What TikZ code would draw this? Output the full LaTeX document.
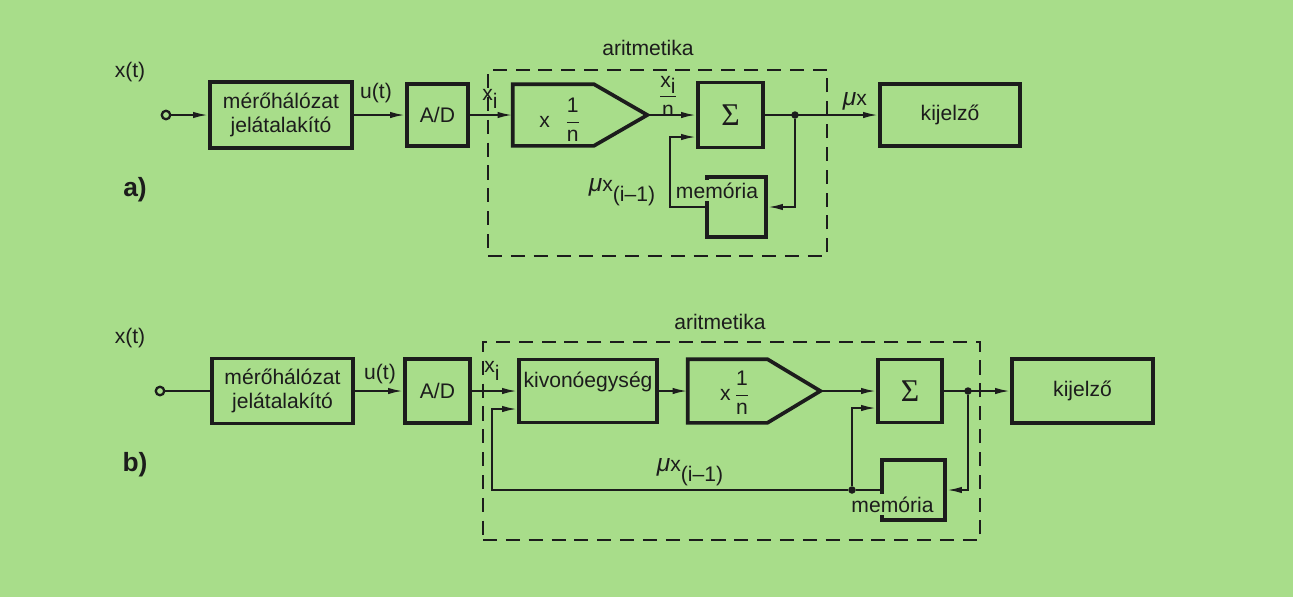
\documentclass[tikz,border=0pt]{standalone}
\usepackage{fontspec}
\setmainfont{Liberation Sans}
\newfontfamily\sigfont{Liberation Serif}
\usetikzlibrary{arrows.meta}
\definecolor{bgc}{RGB}{168,221,138}
\definecolor{ink}{RGB}{28,28,28}
\tikzset{
  blk/.style={draw, line width=2.1pt, align=center, inner sep=2pt},
  amp/.style={inner sep=0pt},
  ampline/.style={line width=2.1pt, line join=miter},
  arit/.style={draw, line width=1.1pt, dash pattern=on 8pt off 5pt},
  lbl/.style={inner sep=1pt},
  tag/.style={font=\bfseries\fontsize{15}{17}\selectfont},
  port/.style={circle, draw, line width=1.3pt, fill=bgc, inner sep=0pt, minimum size=0.17cm},
  junc/.style={circle, fill, inner sep=0pt, minimum size=0.15cm},
  memtext/.style={fill=bgc, inner sep=1.5pt, anchor=base},
  wire/.style={line width=1.1pt},
  flow/.style={-{Latex[length=8.5pt,width=3.6pt]}, line width=1.1pt},
}
\newcommand{\sigmark}{{\sigfont\fontsize{18}{20}\selectfont Σ}}
\newcommand{\mumark}{{\fontsize{14}{16}\selectfont\itshape μ}}

\begin{document}
\begin{tikzpicture}[color=ink, font=\fontsize{12}{14}\selectfont]
  \fill[bgc] (0,0) rectangle (25.86,-11.94);
  \useasboundingbox (0,0) rectangle (25.86,-11.94);

  % a)
  \node[tag] (taga) at (2.70,-3.80) {a)};
  \node[port] (ina) at (3.32,-2.30) {};
  \node[lbl] (xta) at (2.60,-1.44) {x(t)};
  \node[blk, minimum width=2.84cm, minimum height=1.32cm] (meroa) at (5.62,-2.30) {mérőhálózat\\jelátalakító};
  \node[lbl] (uta) at (7.52,-1.86) {u(t)};
  \node[blk, minimum width=1.22cm, minimum height=1.24cm] (ada) at (8.75,-2.30) {A/D};
  \node[arit, minimum width=6.78cm, minimum height=3.72cm] (arita) at (13.15,-3.26) {};
  \node[lbl] (aritlbla) at (12.96,-0.96) {aritmetika};
  \node[lbl] (xia) at (9.80,-1.98) {x\raisebox{-0.7ex}{i}};
  \node[amp, minimum width=2.68cm, minimum height=1.22cm] (ampa) at (11.60,-2.30) {};
  \draw[ampline] (ampa.north west) -- ([xshift=-1.07cm]ampa.north east) -- (ampa.east)
    -- ([xshift=-1.07cm]ampa.south east) -- (ampa.south west) -- cycle;
  \node[lbl] (amptexta) at (11.20,-2.40) {x\hspace{0.3cm}$\displaystyle\frac{\mbox{1}}{\mbox{n}}$};
  \node[lbl] (xna) at (13.36,-1.92) {$\displaystyle\frac{\mbox{x\raisebox{-0.6ex}{i}}}{\mbox{n}}$};
  \node[blk, minimum width=1.30cm, minimum height=1.30cm] (sigmaa) at (14.61,-2.30) {\sigmark};
  \node[junc] (dota) at (15.90,-2.30) {};
  \node[lbl] (mua) at (17.10,-2.02) {\mumark x};
  \node[blk, minimum width=2.80cm, minimum height=1.24cm] (kijelzoa) at (19.00,-2.30) {kijelző};
  \node[blk, minimum width=1.18cm, minimum height=1.20cm] (mema) at (14.73,-4.14) {};
  \node[memtext] (memlbla) at (14.34,-3.97) {memória};
  \node[lbl] (muia) at (12.44,-3.84) {\mumark x\raisebox{-0.9ex}{(i\textendash1)}};
  \coordinate (fba) at (13.40,-2.74);

  \draw[flow] (ina) -- (meroa);
  \draw[flow] (meroa) -- (ada);
  \draw[flow] (ada) -- (ampa);
  \draw[flow] (ampa) -- (sigmaa);
  \draw[flow] (sigmaa) -- (kijelzoa);
  \draw[flow] (dota) |- (mema.east);
  \draw[flow] (mema.west) -| (fba) -- (fba -| sigmaa.west);

  % b)
  \node[tag] (tagb) at (2.70,-9.30) {b)};
  \node[port] (inb) at (3.20,-7.82) {};
  \node[lbl] (xtb) at (2.60,-6.76) {x(t)};
  \node[blk, minimum width=2.82cm, minimum height=1.30cm] (merob) at (5.65,-7.82) {mérőhálózat\\jelátalakító};
  \node[lbl] (utb) at (7.60,-7.48) {u(t)};
  \node[blk, minimum width=1.30cm, minimum height=1.28cm] (adb) at (8.75,-7.82) {A/D};
  \node[arit, minimum width=9.94cm, minimum height=3.96cm] (aritb) at (14.63,-8.82) {};
  \node[lbl] (aritlblb) at (14.40,-6.44) {aritmetika};
  \node[lbl] (xib) at (9.84,-7.42) {x\raisebox{-0.7ex}{i}};
  \node[blk, minimum width=2.76cm, minimum height=1.26cm, text height=1.6ex, text depth=2.3ex] (kivonob) at (11.76,-7.82) {kivonóegység};
  \node[amp, minimum width=2.64cm, minimum height=1.26cm] (ampb) at (15.08,-7.82) {};
  \draw[ampline] (ampb.north west) -- ([xshift=-1.06cm]ampb.north east) -- (ampb.east)
    -- ([xshift=-1.06cm]ampb.south east) -- (ampb.south west) -- cycle;
  \node[lbl] (amptextb) at (14.70,-7.86) {x\,$\displaystyle\frac{\mbox{1}}{\mbox{n}}$};
  \node[blk, minimum width=1.28cm, minimum height=1.26cm] (sigmab) at (18.20,-7.82) {\sigmark};
  \node[junc] (dotb1) at (19.36,-7.82) {};
  \node[blk, minimum width=2.82cm, minimum height=1.28cm] (kijelzob) at (21.65,-7.82) {kijelző};
  \node[blk, minimum width=1.26cm, minimum height=1.20cm] (memb) at (18.27,-9.80) {};
  \node[junc] (dotb2) at (17.04,-9.80) {};
  \node[memtext] (memlblb) at (17.85,-10.24) {memória};
  \node[lbl] (muib) at (13.80,-9.44) {\mumark x\raisebox{-0.9ex}{(i\textendash1)}};
  \coordinate (fbb) at (9.84,-8.18);
  \coordinate (sinb) at (17.04,-8.16);

  \draw[wire] (inb) -- (merob);
  \draw[flow] (merob) -- (adb);
  \draw[flow] (adb) -- (kivonob);
  \draw[flow] (kivonob) -- (ampb);
  \draw[flow] (ampb) -- (sigmab);
  \draw[flow] (sigmab) -- (kijelzob);
  \draw[flow] (dotb1) |- (memb.east);
  \draw[wire] (memb.west) -- (dotb2);
  \draw[flow] (dotb2) -| (fbb) -- (fbb -| kivonob.west);
  \draw[flow] (dotb2) -- (sinb) -- (sinb -| sigmab.west);
\end{tikzpicture}
\end{document}
